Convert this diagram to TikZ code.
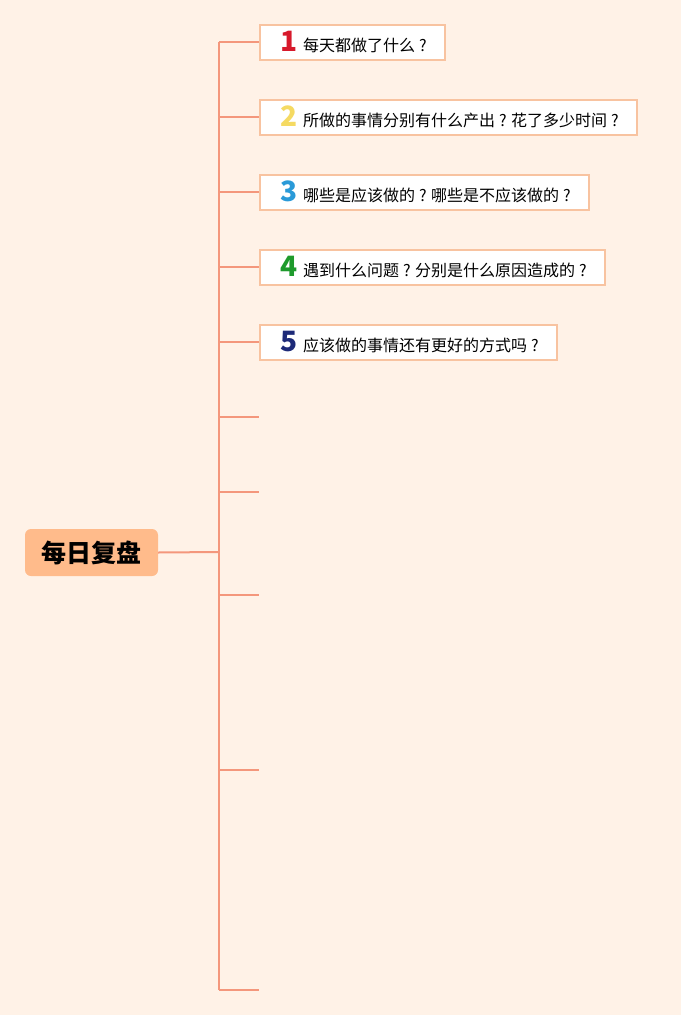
\documentclass[tikz,border=0pt]{standalone}
\usepackage{fontspec}
\newfontfamily\cjk{Noto Sans CJK SC}
\usetikzlibrary{positioning,backgrounds}

\definecolor{paper}{HTML}{FFF2E7}
\definecolor{branch}{HTML}{F4977C}
\definecolor{boxline}{HTML}{F8C3A0}
\definecolor{rootfill}{HTML}{FFBB8B}
\definecolor{numA}{HTML}{D7192B}
\definecolor{numB}{HTML}{F5DA62}
\definecolor{numC}{HTML}{2A9AD8}
\definecolor{numD}{HTML}{1E9A2C}
\definecolor{numE}{HTML}{1D2A78}

\newcommand{\qnum}[2]{\kern20pt\makebox[23pt][l]{\textcolor{#1}{\fontsize{28}{28}\selectfont\bfseries #2}}}
\newcommand{\qm}{\makebox[1em]{?}}

\begin{document}
\begin{tikzpicture}[x=1pt,y=-1pt,
    font=\cjk\fontsize{16}{18}\selectfont,
    rootbox/.style={fill=rootfill, rounded corners=6pt, minimum width=133pt, minimum height=47pt, font=\cjk\bfseries\fontsize{25}{27}\selectfont},
    qbox/.style={draw=boxline, line width=2pt, fill=white, anchor=west, minimum height=35pt, inner xsep=0pt, inner ysep=0pt},
    branchline/.style={draw=branch, line width=2pt}]
    \useasboundingbox (0,0) rectangle (681,1015);

    \node[rootbox] (root) at (91.5,552.5) {每日复盘};
    \coordinate (J) at (219,552);

    \node[qbox] (b1) at (259,42)  {\qnum{numA}{1}每天都做了什么\qm\kern14pt};
    \node[qbox] (b2) at (259,117) {\qnum{numB}{2}所做的事情分别有什么产出\qm 花了多少时间\qm\kern14pt};
    \node[qbox] (b3) at (259,192) {\qnum{numC}{3}哪些是应该做的\qm 哪些是不应该做的\qm\kern14pt};
    \node[qbox] (b4) at (259,267) {\qnum{numD}{4}遇到什么问题\qm 分别是什么原因造成的\qm\kern14pt};
    \node[qbox] (b5) at (259,342) {\qnum{numE}{5}应该做的事情还有更好的方式吗\qm\kern14pt};

    % empty branches
    \foreach \n/\y in {6/417,7/492,8/595,9/770,10/990}
      \coordinate (e\n) at (259,\y);

    \begin{scope}[on background layer]
      \fill[paper] (0,0) rectangle (681,1015);
      \draw[branchline] (root.east) -- (J);
      \draw[branchline] (J |- b1.west) -- (J |- e10);
      \foreach \b in {b1,b2,b3,b4,b5}
        \draw[branchline] (J |- \b.west) -- (\b.west);
      \foreach \n in {6,...,10}
        \draw[branchline] (J |- e\n) -- (e\n);
    \end{scope}
\end{tikzpicture}
\end{document}
